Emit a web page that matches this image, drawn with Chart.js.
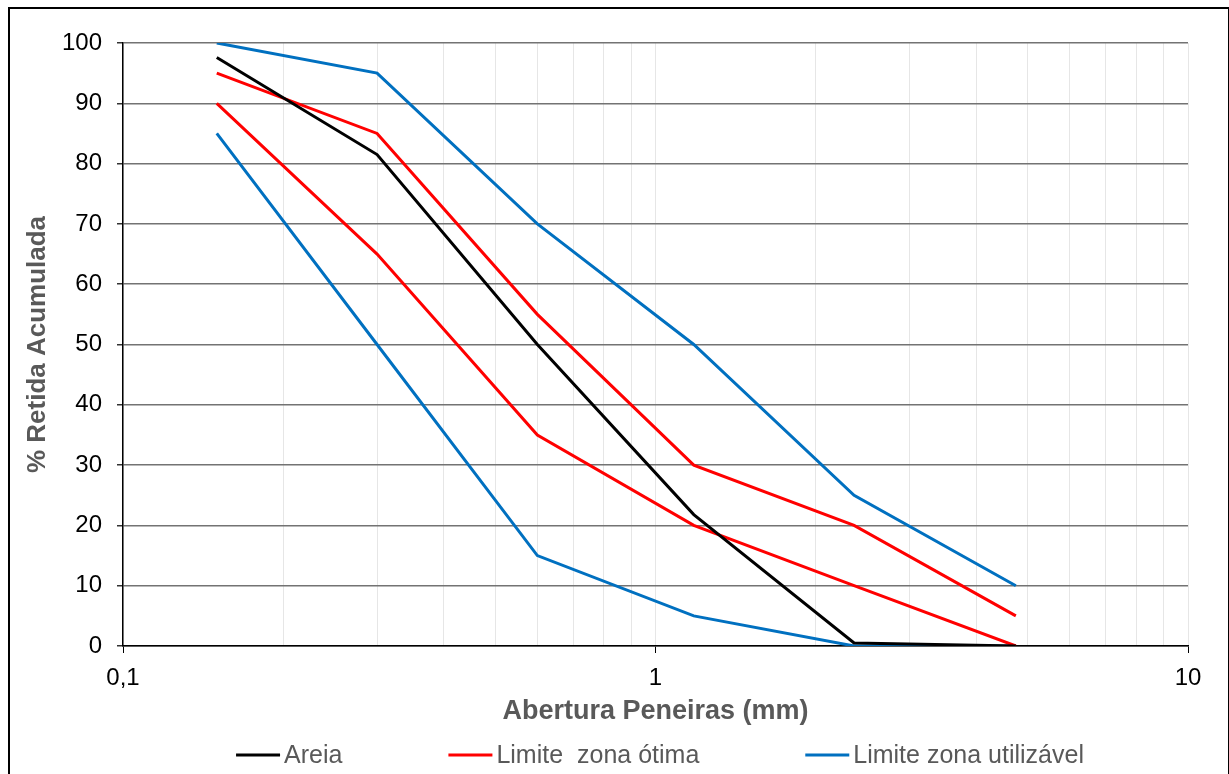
<!DOCTYPE html>
<html>
<head>
<meta charset="utf-8">
<script src="https://cdn.jsdelivr.net/npm/chart.js@4.4.0/dist/chart.umd.min.js"></script>
<style>
  body { margin: 0; background: #fff; overflow: hidden; }
  #moldura { position: absolute; left: 8px; top: 7px; width: 1218px; height: 800px; border: 2px solid #000; }
  #grafico { position: absolute; left: 0; top: 0; }
</style>
</head>
<body>
<div id="moldura"></div>
<canvas id="grafico" width="1229" height="774"></canvas>
<script>
// aberturas das peneiras (mm)
const peneiras = [0.15, 0.3, 0.6, 1.18, 2.36, 4.75];
// % retida acumulada
const areia = [97.6, 81.5, 50, 21.8, 0.5, 0];
const otimaSup = [95, 85, 55, 30, 20, 5];
const otimaInf = [90, 65, 35, 20, 10, 0];
const utilSup = [100, 95, 70, 50, 25, 10];
const utilInf = [85, 50, 15, 5, 0, 0];

const rotulos = ["Areia", "Limite  zona ótima", "Limite zona utilizável"];
const ticksX = [0.1, 1, 10];

const fonte = "'Liberation Sans', Arial, sans-serif";
const preto = "#000000";
const vermelho = "#FF0000";
const azul = "#0070C0";

function pontos(valores) {
    return peneiras.map(function(p, i) { return { x: p, y: valores[i] }; });
}

function serie(label, valores, cor) {
    return {
        label: label,
        data: pontos(valores),
        borderColor: cor,
        backgroundColor: cor,
        borderWidth: 3,
        pointRadius: 0,
        tension: 0
    };
}

// legenda no estilo do Excel (linha curta colada ao texto)
const legendaExcel = {
    id: 'legendaExcel',
    afterDraw: function(chart) {
        var c = chart.ctx;
        var itens = chart.data.datasets.filter(function(d, i, arr) {
            return arr.findIndex(function(e) { return e.label === d.label; }) === i;
        });
        c.save();
        c.font = '25px ' + fonte;
        var linha = 44, folga = 4, espaco = 106;
        var larg = itens.map(function(d) { return linha + folga + c.measureText(d.label).width; });
        var total = larg.reduce(function(a, b) { return a + b; }, 0) + espaco * (itens.length - 1);
        var x = 660 - total / 2;
        var y = 755;
        itens.forEach(function(d, i) {
            c.strokeStyle = d.borderColor;
            c.lineWidth = 3;
            c.beginPath();
            c.moveTo(x, y);
            c.lineTo(x + linha, y);
            c.stroke();
            c.fillStyle = '#595959';
            c.textBaseline = 'middle';
            c.textAlign = 'left';
            c.fillText(d.label, x + linha + folga, y + 1);
            x += larg[i] + espaco;
        });
        c.restore();
    }
};

var ctx = document.getElementById('grafico').getContext('2d');

var data = {
    datasets: [
        serie(rotulos[0], areia, preto),
        serie(rotulos[1], otimaSup, vermelho),
        serie(rotulos[1], otimaInf, vermelho),
        serie(rotulos[2], utilSup, azul),
        serie(rotulos[2], utilInf, azul)
    ]
};

var options = {
    responsive: false,
    animation: false,
    layout: { padding: { left: 10, right: 41, top: 43, bottom: 40 } },
    plugins: {
        legend: { display: false },
        tooltip: { enabled: false }
    },
    scales: {
        x: {
            type: 'logarithmic',
            min: 0.1,
            max: 10,
            afterBuildTicks: function(scale) {
                var lista = [];
                for (var d = 0; d < ticksX.length - 1; d++) {
                    for (var k = 1; k < 10; k++) lista.push({ value: ticksX[d] * k });
                }
                lista.push({ value: ticksX[ticksX.length - 1] });
                scale.ticks = lista;
            },
            afterFit: function(scale) { scale.height = 88; },
            ticks: {
                autoSkip: false,
                maxRotation: 0,
                padding: 11,
                color: '#000',
                font: { family: fonte, size: 24 },
                callback: function(v) {
                    var i = ticksX.findIndex(function(t) { return Math.abs(t - v) < 1e-9; });
                    return i >= 0 ? String(ticksX[i]).replace('.', ',') : '';
                }
            },
            grid: {
                color: '#e6e6e6',
                lineWidth: 1,
                tickLength: 7,
                tickColor: function(c) {
                    var v = c.tick ? c.tick.value : 0;
                    return ticksX.some(function(t) { return Math.abs(t - v) < 1e-9; }) ? '#000' : 'rgba(0,0,0,0)';
                }
            },
            border: { color: '#000', width: 1.5 },
            title: {
                display: true,
                text: 'Abertura Peneiras (mm)',
                color: '#595959',
                font: { family: fonte, size: 27, weight: 'bold' },
                padding: { top: 0, bottom: 6 }
            }
        },
        y: {
            min: 0,
            max: 100,
            afterFit: function(scale) { scale.width = 113; },
            ticks: {
                stepSize: 10,
                padding: 15,
                color: '#000',
                font: { family: fonte, size: 24 }
            },
            grid: {
                color: '#737373',
                lineWidth: 1.5,
                tickLength: 6,
                tickColor: '#333'
            },
            border: { color: '#000', width: 1.5 },
            title: {
                display: true,
                text: '% Retida Acumulada',
                color: '#595959',
                font: { family: fonte, size: 26, weight: 'bold' },
                padding: { top: 12, bottom: 0 }
            }
        }
    }
};

var chart = new Chart(ctx, {
    type: 'line',
    data: data,
    options: options,
    plugins: [legendaExcel]
});
</script>
</body>
</html>
